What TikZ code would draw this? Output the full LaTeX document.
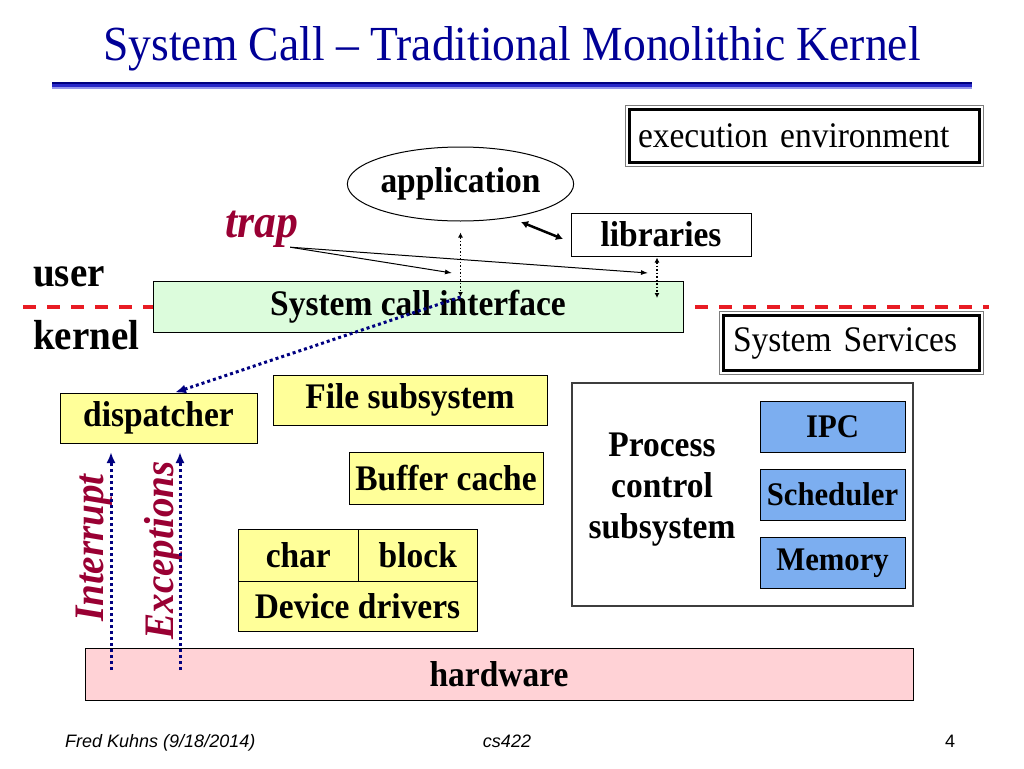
\documentclass[tikz,border=0pt]{standalone}
\usepackage{fontspec}
\setmainfont{Liberation Serif}[FakeStretch=0.93]
\newfontfamily\footfont{Liberation Sans}
\usepackage{xcolor}
\definecolor{hnavy}{RGB}{0,0,128}
\definecolor{htitle}{RGB}{0,0,150}
\definecolor{hred}{RGB}{153,0,51}
\definecolor{hdash}{RGB}{232,28,36}
\definecolor{hgreen}{RGB}{220,252,220}
\definecolor{hyellow}{RGB}{255,255,153}
\definecolor{hblue}{RGB}{124,174,240}
\definecolor{hpink}{RGB}{255,210,214}
\definecolor{hgrey}{RGB}{125,125,125}
\definecolor{hband}{RGB}{40,40,200}
\definecolor{hband0}{RGB}{150,150,235}
\usetikzlibrary{shapes.geometric}
\usetikzlibrary{arrows.meta}
\tikzset{
  kbox/.style={draw=black,line width=1pt,inner sep=0pt,font=\fontsize{36}{42}\selectfont\bfseries},
  sbox/.style={kbox,fill=hblue,minimum width=145pt,minimum height=51pt,font=\fontsize{33}{38}\selectfont\bfseries},
  ebox/.style={draw=black,line width=3.5pt,inner ysep=0pt,align=left,font=\fontsize{36}{42}\selectfont},
  vtext/.style={hred,rotate=90,inner sep=0pt,font=\fontsize{42}{48}\selectfont\bfseries\itshape},
  navyarrow/.style={hnavy,line width=3pt,dash pattern=on 3pt off 3pt,-{Latex[length=11pt,width=9pt]}},
  dotarrow/.style={black,line width=1.5pt,dash pattern=on 1.5pt off 2pt,{Latex[length=5pt,width=5pt]}-{Latex[length=5pt,width=5pt]}},
  trapline/.style={black,line width=1pt,-{Latex[length=7pt,width=5pt]}}
}

\begin{document}
\begin{tikzpicture}[x=1pt,y=-1pt]
\useasboundingbox (0,0) rectangle (1024,768);
% title and rule
\node[htitle,anchor=base,inner sep=0pt,font=\fontsize{49}{56}\selectfont] (title) at (512,60) {System Call – Traditional Monolithic Kernel};
\fill[hnavy] (52,82) rectangle (972,83.8);
\fill[hband] (52,83.8) rectangle (972,86.6);
\fill[hband0] (52,86.6) rectangle (972,88.5);
% user / kernel border
\draw[hdash,line width=4pt,dash pattern=on 13pt off 11pt] (23,307) -- (989,307);
\node[anchor=base west,inner sep=0pt,font=\fontsize{42}{48}\selectfont\bfseries] (user) at (33,286) {user};
\node[anchor=base west,inner sep=0pt,font=\fontsize{42}{48}\selectfont\bfseries] (kernel) at (33,349) {kernel};
% user side
\node[draw,ellipse,line width=1pt,inner sep=0pt,minimum width=223pt,minimum height=74pt,font=\fontsize{36}{42}\selectfont\bfseries] (app) at (460.5,184) {application};
\node[kbox,fill=white,minimum width=180pt,minimum height=43pt] (lib) at (661,234.5) {libraries};
\node[hred,anchor=base west,inner sep=0pt,font=\fontsize{47}{54}\selectfont\bfseries\itshape] (trap) at (225,237) {trap};
\node[ebox,minimum width=350pt,minimum height=53pt,text width=333pt,inner xsep=8.5pt] (exec) at (804.5,136) {execution environment};
\draw[hgrey,line width=1pt] ([shift={(-2.5,-2.5)}]exec.north west) rectangle ([shift={(2.5,2.5)}]exec.south east);
% kernel side
\node[kbox,fill=hgreen,minimum width=530pt,minimum height=51pt] (sci) at (418,306.5) {System call interface};
\node[ebox,minimum width=256pt,minimum height=55pt,text width=237pt,inner xsep=9.5pt] (serv) at (851.5,343) {System Services};
\draw[hgrey,line width=1pt] ([shift={(-2.5,-2.5)}]serv.north west) rectangle ([shift={(2.5,2.5)}]serv.south east);
\node[kbox,fill=hyellow,minimum width=197pt,minimum height=50pt] (disp) at (158.5,418) {dispatcher};
\node[kbox,fill=hyellow,minimum width=274pt,minimum height=50pt] (file) at (410,400) {File subsystem};
\node[kbox,fill=hyellow,minimum width=194pt,minimum height=52pt] (buf) at (446,478) {Buffer cache};
\node[kbox,fill=hyellow,minimum width=120.6pt,minimum height=52pt] (char) at (298.3,555) {char};
\node[kbox,fill=hyellow,minimum width=118.4pt,minimum height=52pt] (block) at (417.8,555) {block};
\node[kbox,fill=hyellow,minimum width=239pt,minimum height=50pt] (dev) at (357.5,606) {Device drivers};
\node[draw=hgrey!50!black,line width=1.2pt,fill=white,minimum width=341pt,minimum height=223pt] (proc) at (742.5,494.5) {};
\node[align=center,inner sep=0pt,font=\fontsize{36}{41}\selectfont\bfseries] (proct) at (662,490) {Process\\control\\subsystem};
\node[sbox] (ipc) at (832.5,426.5) {IPC};
\node[sbox] (sched) at (832.5,494.5) {Scheduler};
\node[sbox] (mem) at (832.5,563) {Memory};
\node[kbox,fill=hpink,minimum width=828pt,minimum height=52pt] (hw) at (499,674) {hardware};
\node[vtext] (intr) at (94,548) {Interrupt};
\node[vtext] (exc) at (163,550.5) {Exceptions};
% connectors
\coordinate (t1) at (452,273);
\coordinate (t2) at (648,273);
\coordinate (s1) at (460.5,297);
\coordinate (s2) at (657,298);
\coordinate (l1) at (521,222);
\coordinate (l2) at (563,239);
\coordinate (i0) at (111,670);
\coordinate (i1) at (111,452);
\coordinate (e0) at (180,670);
\coordinate (e1) at (180,452);
\draw[trapline] ([xshift=-8pt]trap.south east) -- (t1);
\draw[trapline] ([xshift=-8pt]trap.south east) -- (t2);
\draw[line width=2.5pt,{Latex[length=7pt,width=8pt]}-{Latex[length=7pt,width=8pt]}] (l1) -- (l2);
\draw[dotarrow] ([yshift=-11pt]app.south) -- (s1);
\draw[dotarrow] ([xshift=-4pt,yshift=-1pt]lib.south) -- (s2);
\draw[navyarrow] (s1) -- ([xshift=16.5pt]disp.north);
\draw[navyarrow] (i0) -- (i1);
\draw[navyarrow] (e0) -- (e1);
% footer
\node[anchor=base west,inner sep=0pt,font=\footfont\itshape\fontsize{18}{22}\selectfont] (foot1) at (65,747) {Fred Kuhns (9/18/2014)};
\node[anchor=base,inner sep=0pt,font=\footfont\itshape\fontsize{18}{22}\selectfont] (foot2) at (507,747) {cs422};
\node[anchor=base,inner sep=0pt,font=\footfont\fontsize{18}{22}\selectfont] (foot3) at (950,747) {4};
\end{tikzpicture}
\end{document}
